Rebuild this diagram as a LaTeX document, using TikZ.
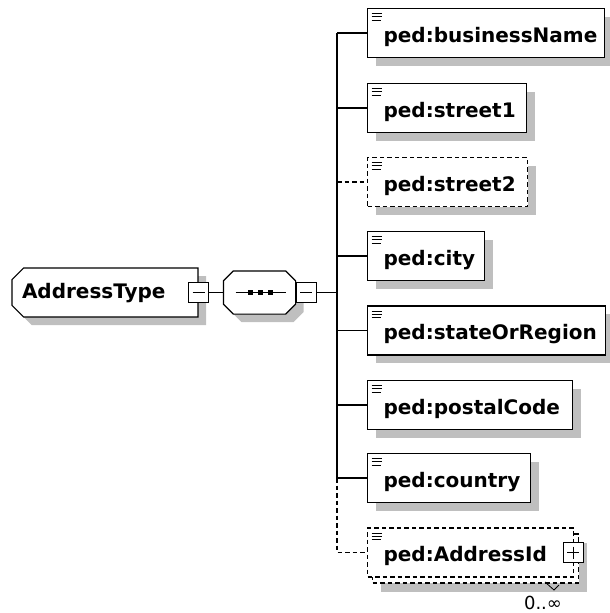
\documentclass[tikz,border=0pt]{standalone}
\usepackage{fontspec}
\setmainfont{DejaVu Sans}
\usetikzlibrary{positioning, shapes.misc, shadows}

\tikzset{
  shade/.style={drop shadow={shadow xshift=8pt, shadow yshift=-8pt, fill=black!25, opacity=1}},
  elembox/.style={draw, fill=white, anchor=west, minimum height=49pt,
    inner xsep=4pt, text width=#1, align=left, text height=22pt, text depth=4pt,
    font=\bfseries\fontsize{20}{24}\selectfont,
    execute at begin node={\hspace*{12pt}},
    path picture={
      \draw[solid, line width=0.9pt]
        ([shift={(4pt,-5pt)}]path picture bounding box.north west) -- ++(10pt,0)
        ([shift={(4pt,-8.4pt)}]path picture bounding box.north west) -- ++(10pt,0)
        ([shift={(4pt,-11.8pt)}]path picture bounding box.north west) -- ++(9pt,0);
    }},
  elem/.style={elembox=#1, shade},
  optline/.style={dash pattern=on 4.5pt off 3pt},
  optelem/.style={elem=#1, optline},
  multielem/.style={elembox=#1, optline,
    drop shadow={shadow xshift=13pt, shadow yshift=-15pt, fill=black!25, opacity=1},
    copy shadow={shadow xshift=5pt, shadow yshift=-6pt, draw=black, fill=white,
      optline, line width=1.2pt}},
  ctrl/.style={draw, fill=white, minimum size=20pt, inner sep=0pt},
  minus/.style={ctrl, path picture={
      \draw ([xshift=4pt]path picture bounding box.west) -- ([xshift=-4pt]path picture bounding box.east);}},
  plus/.style={ctrl, path picture={
      \draw ([xshift=4pt]path picture bounding box.west) -- ([xshift=-4pt]path picture bounding box.east)
            ([yshift=-4pt]path picture bounding box.north) -- ([yshift=4pt]path picture bounding box.south);}},
  dot/.style={fill, minimum size=5pt, inner sep=0pt},
  seqframe/.style={minimum width=71pt, minimum height=42pt, inner sep=0pt}
}

\begin{document}
\begin{tikzpicture}[x=1pt, y=-1pt, line width=1.2pt]
    \useasboundingbox (0,0) rectangle (610,613);

    % complex type
    \node[chamfered rectangle, chamfered rectangle corners={north west, south west},
          chamfered rectangle xsep=8pt, draw, fill=white, shade,
          minimum width=186pt, minimum height=49pt, inner xsep=0pt,
          text width=166pt, align=left, text height=15pt, text depth=4pt,
          font=\bfseries\fontsize{20}{24}\selectfont] (type) at (105,292.5) {AddressType};
    \node[minus] (typectl) at (type.east) {};

    % sequence compositor
    \node[seqframe] (seq) at (259.5,292.5) {};
    \fill[black!25, transform canvas={shift={(8pt,-8pt)}}]
        ([xshift=10pt]seq.north west) -- ([xshift=-10pt]seq.north east)
        -- ([yshift=-10pt]seq.north east) -- ([yshift=10pt]seq.south east)
        -- ([xshift=-10pt]seq.south east) -- ([xshift=10pt]seq.south west)
        -- ([yshift=10pt]seq.south west) -- ([yshift=-10pt]seq.north west) -- cycle;
    \draw[fill=white]
        ([xshift=10pt]seq.north west) -- ([xshift=-10pt]seq.north east)
        -- ([yshift=-10pt]seq.north east) -- ([yshift=10pt]seq.south east)
        -- ([xshift=-10pt]seq.south east) -- ([xshift=10pt]seq.south west)
        -- ([yshift=10pt]seq.south west) -- ([yshift=-10pt]seq.north west) -- cycle;
    \node[minus, anchor=west] (seqctl) at (seq.east) {};
    \draw ([xshift=-24pt]seq.center) -- ([xshift=26pt]seq.center);
    \node[dot] (d1) at ([xshift=-9.5pt]seq.center) {};
    \node[dot] (d2) at ([xshift=0.5pt]seq.center) {};
    \node[dot] (d3) at ([xshift=10.5pt]seq.center) {};

    \coordinate (trunk) at (337,292.5);

    % child elements
    \node[elem=229pt] (bizname) at (367,33) {ped:businessName};
    \node[elem=151pt] (street1) at (367,108) {ped:street1};
    \node[optelem=152pt] (street2) at (367,182) {ped:street2};
    \node[elem=109pt] (city) at (367,256) {ped:city};
    \node[elem=230pt] (state) at (367,330.5) {ped:stateOrRegion};
    \node[elem=197pt] (postal) at (367,405) {ped:postalCode};
    \node[elem=155pt] (country) at (367,478) {ped:country};
    \node[multielem=198pt] (addrid) at (367,552.5) {ped:AddressId};
    \node[plus] (addrctl) at ([xshift=-1pt]addrid.east) {};
    \draw[line width=0.8pt] (545,582) -- (554,590) -- (559,585);
    \node[font=\fontsize{18}{20}\selectfont, inner sep=0pt] (occurs) at (543,603) {0..∞};

    % connections
    \draw (typectl) -- (typectl -| seq.west);
    \draw (seqctl) -- (seqctl -| trunk);
    \draw (trunk |- bizname.west) -- (trunk |- country.west);

    \draw (trunk |- bizname.west) -- (bizname);
    \draw (trunk |- street1.west) -- (street1);
    \draw[optline] (trunk |- street2.west) -- (street2);
    \draw (trunk |- city.west) -- (city);
    \draw (trunk |- state.west) -- (state);
    \draw (trunk |- postal.west) -- (postal);
    \draw (trunk |- country.west) -- (country);
    \draw[optline] (trunk |- country.west) -- (trunk |- addrid.west) -- (addrid);
\end{tikzpicture}
\end{document}
